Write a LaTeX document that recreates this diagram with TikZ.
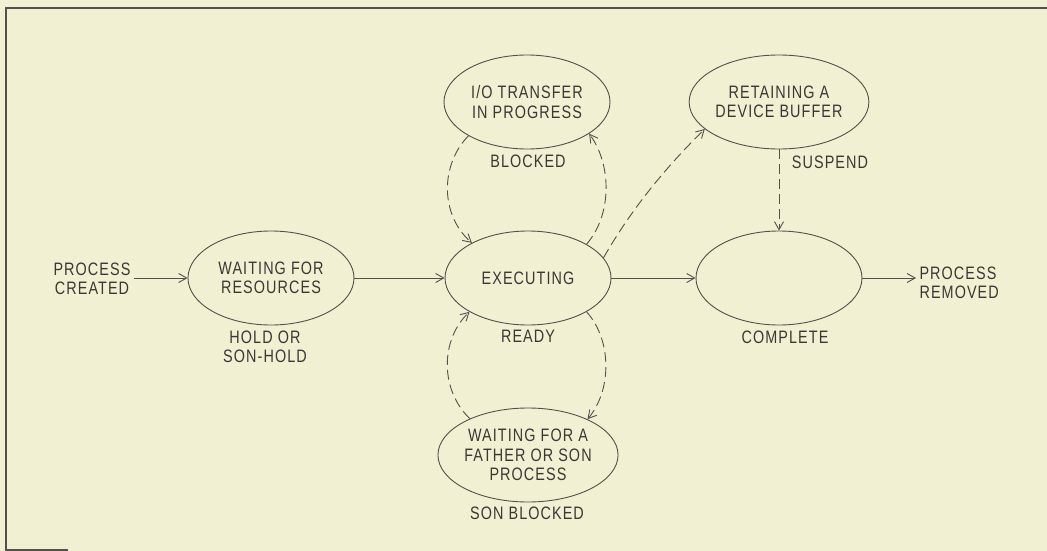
\documentclass[tikz,border=0pt]{standalone}
\usepackage{fontspec}
\setmainfont{Liberation Sans}[FakeStretch=0.8,LetterSpace=6]
\usetikzlibrary{arrows.meta,shapes.geometric}
\definecolor{bg}{RGB}{241,240,211}
\definecolor{ink}{RGB}{85,80,76}
\definecolor{txt}{RGB}{58,56,52}
\begin{document}
\begin{tikzpicture}[x=1pt,y=-1pt,
  every node/.style={text=txt, font=\fontsize{18}{19.5}\selectfont, align=center},
  state/.style={ellipse, draw=ink, line width=0.9pt, minimum width=166pt, minimum height=94pt, inner sep=0pt},
  lbl/.style={inner sep=2pt},
  flow/.style={draw=ink, line width=0.9pt, -{Straight Barb[length=8pt,width=9pt]}},
  dflow/.style={flow, dash pattern=on 10pt off 5pt}]
\fill[bg] (0,0) rectangle (1047,551);
\useasboundingbox (0,0) rectangle (1047,551);
\draw[ink, line width=1.5pt] (1047,8) -- (6,8) -- (6,551);
\draw[ink, line width=1.2pt] (6,550) -- (68,550);

\node[state] (wait) at (271,278) {WAITING FOR\\RESOURCES};
\node[state] (exec) at (528,278) {EXECUTING};
\node[state] (io) at (527,102) {I/O TRANSFER\\IN PROGRESS};
\node[state] (ret) at (779,102) {RETAINING A\\DEVICE BUFFER};
\node[state] (comp) at (779,278) {};
\node[state] (fath) at (528,455) {WAITING FOR A\\FATHER OR SON\\PROCESS};

\node (pc) at (92,279) {PROCESS\\CREATED};
\node[anchor=west, align=left] (pr) at (916,283) {PROCESS\\REMOVED};

\node[lbl] (hold) at (265,347) {HOLD OR\\SON-HOLD};
\node[lbl] (blk) at (528,161) {BLOCKED};
\node[lbl] (rdy) at (528,336) {READY};
\node[lbl] (cpl) at (785,337) {COMPLETE};
\node[lbl] (susp) at (830,162) {SUSPEND};
\node[lbl] (sonb) at (527,513) {SON BLOCKED};

\draw[flow] (pc.east |- wait.west) -- (wait.west);
\draw[flow] (wait) -- (exec);
\draw[flow] (exec) -- (comp);
\draw[flow] (comp.east) -- (comp.east -| pr.west);
\draw[dflow] (ret) -- (comp);

\draw[dflow] (io.210) .. controls (440,165) and (440,215) .. (exec.148);
\draw[dflow] (exec.30) .. controls (612,215) and (612,165) .. (io.-27);
\draw[dflow] (exec.-30) .. controls (612,340) and (612,390) .. (fath.31);
\draw[dflow] (fath.148) .. controls (440,390) and (440,340) .. (exec.210);
\draw[dflow] (exec.15) .. controls (632,208) and (667,166) .. (ret.200);
\end{tikzpicture}
\end{document}
